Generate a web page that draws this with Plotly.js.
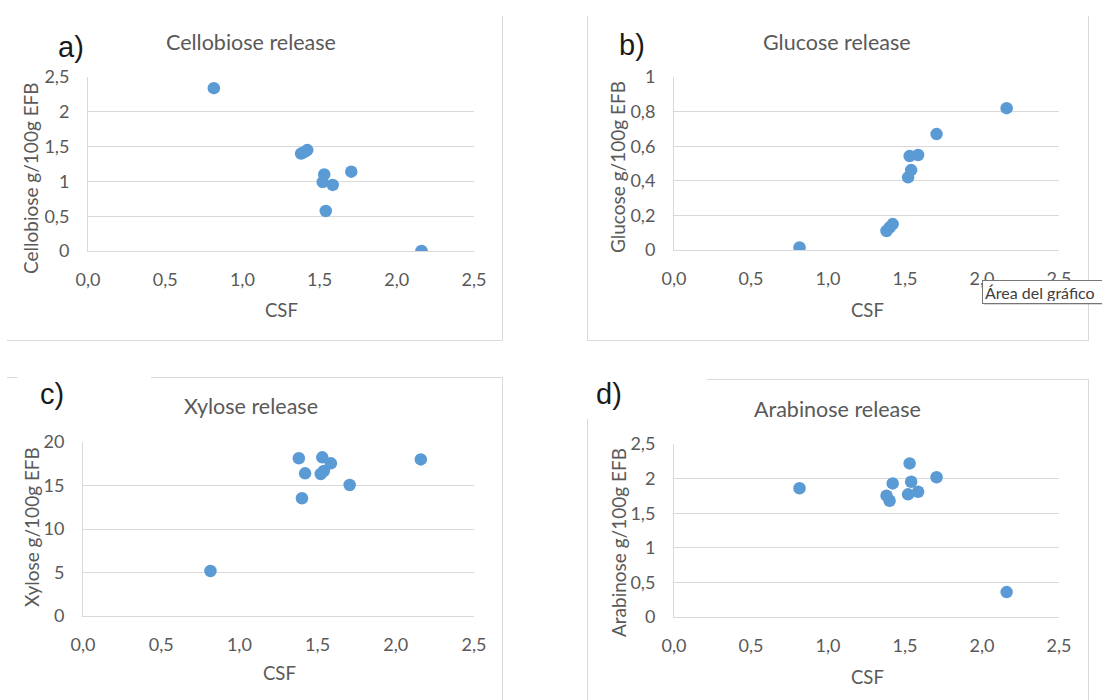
<!DOCTYPE html>
<html>
<head>
<meta charset="utf-8">
<script src="https://cdn.plot.ly/plotly-3.0.1.min.js"></script>
<style>html,body{margin:0;padding:0;background:#fff;}#chart{width:1102px;height:700px;}</style>
</head>
<body>
<div id="chart"></div>
<script>
// ---- data ----
const csf        = [0.815, 1.38, 1.40, 1.42, 1.52, 1.53, 1.54, 1.585, 1.705, 2.16];
const cellobiose = [2.34, 1.40, 1.42, 1.45, 0.99, 1.10, 0.575, 0.95, 1.14, 0.0];
const glucose    = [0.015, 0.11, 0.13, 0.15, 0.42, 0.543, 0.462, 0.549, 0.67, 0.82];
const xylose     = [5.17, 18.13, 13.53, 16.4, 16.32, 18.24, 16.67, 17.55, 15.06, 18.0];
const arabinose  = [1.86, 1.753, 1.68, 1.93, 1.773, 2.22, 1.955, 1.81, 2.02, 0.36];

const panelLetters = ['a)', 'b)', 'c)', 'd)'];
const panelTitles  = ['Cellobiose release', 'Glucose release', 'Xylose release', 'Arabinose release'];
const yTitles      = ['Cellobiose g/100g EFB', 'Glucose g/100g EFB', 'Xylose g/100g EFB', 'Arabinose g/100g EFB'];
const xTitle       = 'CSF';
const yRanges      = [[0, 2.5], [0, 1], [0, 20], [0, 2.5]];
const yDticks      = [0.5, 0.2, 5, 0.5];
const seriesY      = [cellobiose, glucose, xylose, arabinose];

// ---- layout geometry (pixels) ----
const W = 1102, H = 700;
const px = x => x / W;
const py = y => 1 - y / H;
const boxes = [ // plot area left, right, top, bottom
  {l: 88,  r: 474,  t: 77,  b: 251},
  {l: 674, r: 1059, t: 77,  b: 250},
  {l: 83,  r: 474,  t: 442, b: 616},
  {l: 674, r: 1059, t: 444, b: 617}
];
const letterPos = [[71, 47], [632, 45], [52, 394], [609, 394]];
const titlePos  = [[251, 42], [837, 42], [251, 406], [837, 409]];
const yTitlePos = [[31, 178], [618, 167], [31, 527], [618, 543]];
const xTitlePos = [[281, 310], [867, 310], [279, 673], [867, 677]];

const gray = '#595959';
const grid = '#d9d9d9';
const fontFam = 'Lato, "Open Sans", sans-serif';

const traces = [];
const layout = {
  width: W, height: H,
  margin: {l: 0, r: 0, t: 0, b: 0},
  paper_bgcolor: '#fff', plot_bgcolor: '#fff',
  showlegend: false,
  separators: ',.',
  font: {family: fontFam, color: gray, size: 18},
  annotations: [],
  shapes: []
};

for (let i = 0; i < 4; i++) {
  const n = i === 0 ? '' : String(i + 1);
  const bx = boxes[i];
  traces.push({
    type: 'scatter', mode: 'markers',
    x: csf, y: seriesY[i],
    xaxis: 'x' + n, yaxis: 'y' + n,
    marker: {color: '#5B9BD5', size: 12.5},
    hoverinfo: 'x+y'
  });
  layout['xaxis' + n] = {
    domain: [px(bx.l), px(bx.r)], anchor: 'y' + n,
    range: [0, 2.5], dtick: 0.5, tick0: 0, tickformat: '.1f',
    showgrid: false, zeroline: false,
    showline: true, linecolor: grid, linewidth: 1,
    ticks: '', ticklabelstandoff: 12,
    tickfont: {family: fontFam, size: 18, color: gray},
    fixedrange: true
  };
  layout['yaxis' + n] = {
    domain: [py(bx.b), py(bx.t)], anchor: 'x' + n,
    range: yRanges[i], dtick: yDticks[i], tick0: 0,
    showgrid: true, gridcolor: grid, gridwidth: 1, zeroline: false,
    showline: true, linecolor: grid, linewidth: 1,
    ticks: '', ticklabelstandoff: 14,
    tickfont: {family: fontFam, size: 18, color: gray},
    fixedrange: true
  };
  layout.annotations.push(
    {text: panelLetters[i], x: px(letterPos[i][0]), y: py(letterPos[i][1]), xref: 'paper', yref: 'paper',
     xanchor: 'center', yanchor: 'middle', showarrow: false,
     font: {family: '"Liberation Sans", Arial, sans-serif', size: 29, color: '#1a1a1a'}},
    {text: panelTitles[i], x: px(titlePos[i][0]), y: py(titlePos[i][1]), xref: 'paper', yref: 'paper',
     xanchor: 'center', yanchor: 'middle', showarrow: false,
     font: {family: fontFam, size: 21.5, color: gray}},
    {text: yTitles[i], x: px(yTitlePos[i][0]), y: py(yTitlePos[i][1]), xref: 'paper', yref: 'paper',
     xanchor: 'center', yanchor: 'middle', showarrow: false, textangle: -90,
     font: {family: fontFam, size: 19, color: gray}},
    {text: xTitle, x: px(xTitlePos[i][0]), y: py(xTitlePos[i][1]), xref: 'paper', yref: 'paper',
     xanchor: 'center', yanchor: 'middle', showarrow: false,
     font: {family: fontFam, size: 18.5, color: gray}}
  );
}

// chart-area borders (partially visible in the reference collage)
const borderLines = [
  [502.5, 16, 502.5, 340.5], [7, 340.5, 502.5, 340.5],
  [587.5, 16, 587.5, 340.5], [1088.5, 16, 1088.5, 340.5], [587.5, 340.5, 1088.5, 340.5],
  [7, 377.5, 17.5, 377.5], [151, 377.5, 502.5, 377.5], [502.5, 377.5, 502.5, 700],
  [707, 379.5, 1088.5, 379.5], [587.5, 419, 587.5, 700], [1088.5, 379.5, 1088.5, 700]
];
borderLines.forEach(s => layout.shapes.push({
  type: 'line', xref: 'paper', yref: 'paper',
  x0: px(s[0]), y0: py(s[1]), x1: px(s[2]), y1: py(s[3]),
  line: {color: grid, width: 1}, layer: 'above'
}));

// tooltip "Área del gráfico" shadow + box
layout.shapes.push({
  type: 'rect', xref: 'paper', yref: 'paper', layer: 'above',
  x0: px(984), x1: px(1110), y0: py(282), y1: py(305),
  fillcolor: 'rgba(0,0,0,0.15)', line: {width: 0}
});
layout.annotations.push({
  text: 'Área del gráfico', x: px(981.5), y: py(280), xref: 'paper', yref: 'paper',
  xanchor: 'left', yanchor: 'top', showarrow: false, align: 'left',
  width: 126, height: 18, bgcolor: '#fff', bordercolor: '#767676', borderwidth: 1, borderpad: 2,
  font: {family: fontFam, size: 16, color: '#404040'}
});

Plotly.newPlot('chart', traces, layout, {displayModeBar: false, staticPlot: true});
</script>
</body>
</html>
